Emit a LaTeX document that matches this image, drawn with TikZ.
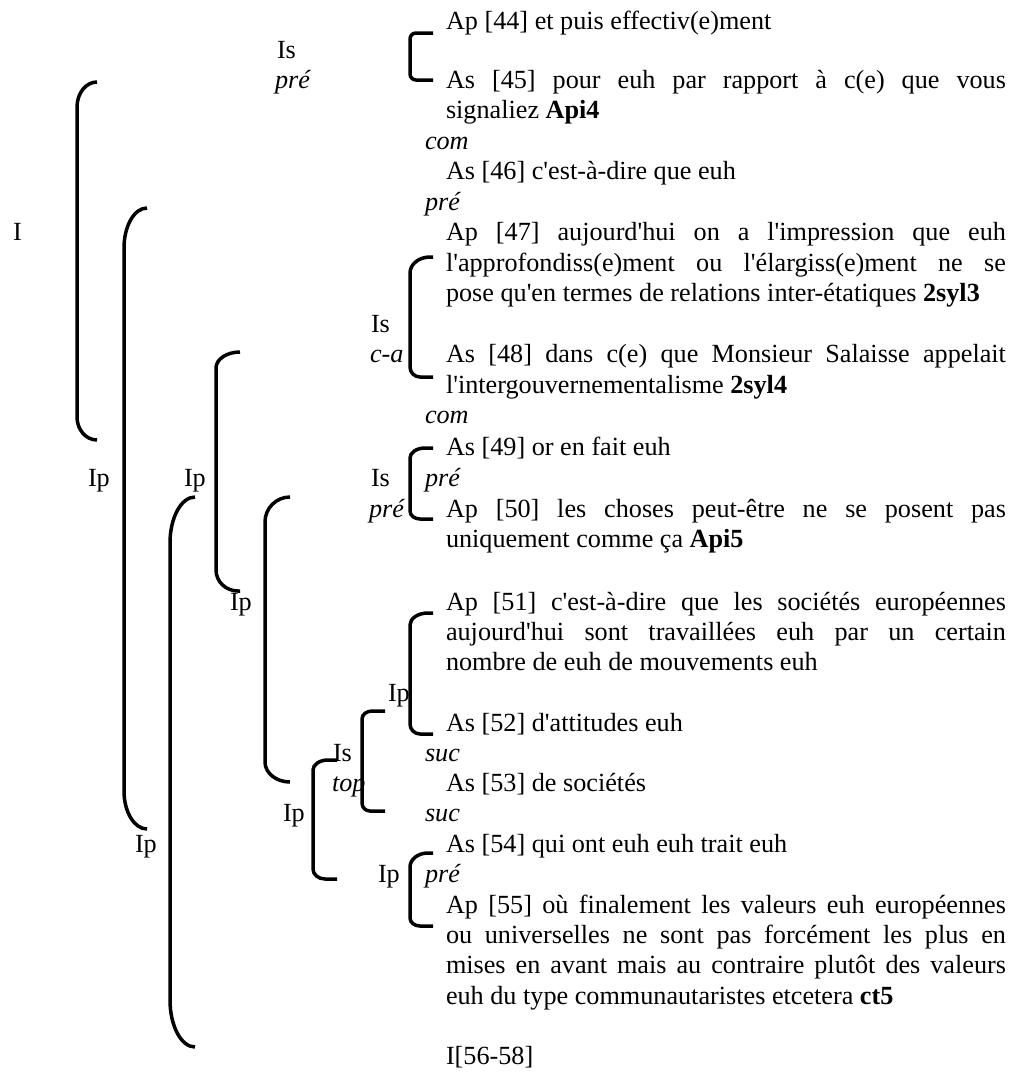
\documentclass[tikz,border=0pt]{standalone}
\usepackage{fontspec}
\setmainfont{Liberation Serif}
\newcommand\aq{\textquotesingle}
\newcommand\jline[1]{\makebox[560pt][s]{#1}}
\newcommand\mybracket[8]{%
  \draw[brk] (#2,#3) -- ({#1+#5},#3)
    .. controls ({#1+0.448*#5},#3) and (#1,{#3+0.448*#6}) .. (#1,{#3+#6})
    -- (#1,{#4-#8})
    .. controls (#1,{#4-0.448*#8}) and ({#1+0.448*#7},#4) .. ({#1+#7},#4)
    -- (#2,#4);}
\tikzset{
  txt/.style={anchor=base west, inner sep=0pt, outer sep=0pt,
    font=\fontsize{26.2}{30}\selectfont},
  lab/.style={txt},
  brk/.style={line width=3.5pt, line cap=butt, line join=round},
}
\begin{document}
\begin{tikzpicture}[x=1pt,y=-1pt]
\useasboundingbox[fill=white] (0,0) rectangle (1011,1072);

% ---------- brackets ----------
\mybracket{410}{433}{33}{80}{6}{6}{6}{6}
\mybracket{77}{97}{82}{440}{20}{25}{20}{23}
\mybracket{124}{147}{208}{829}{23}{40}{23}{38}
\mybracket{216}{240}{352}{591}{24}{16}{22}{21}
\mybracket{170}{195}{497}{1047}{25}{46}{25}{47}
\mybracket{265}{290}{497}{782}{25}{25}{25}{20}
\mybracket{313}{337}{760}{879}{15}{10}{12}{10}
\mybracket{362}{385}{711}{811}{10}{8}{8}{8}
\mybracket{410}{433}{613}{734}{18}{12}{10}{10}
\mybracket{410}{433}{448}{519}{15}{10}{10}{8}
\mybracket{410}{433}{257}{377}{20}{16}{10}{10}
\mybracket{410}{433}{853}{926}{18}{14}{10}{8}

% ---------- left labels ----------
\node[lab] (lIs1)  at (277,58.5)  {Is};
\node[lab] (lPre1) at (275,88.3)  {\textit{pré}};
\node[lab] (lI)    at (13,240.5)  {I};
\node[lab] (lIs2)  at (371,332)   {Is};
\node[lab] (lCa)   at (370,362.5) {\textit{c-a}};
\node[lab] (lIp1)  at (88,486.5)  {Ip};
\node[lab] (lIp2)  at (184,486.5) {Ip};
\node[lab] (lIs3)  at (371,486.5) {Is};
\node[lab] (lPre2) at (369,517)   {\textit{pré}};
\node[lab] (lIp3)  at (230,610)   {Ip};
\node[lab] (lIp4)  at (388,701)   {Ip};
\node[lab] (lIs4)  at (333,761)   {Is};
\node[lab] (lTop)  at (332,791)   {\textit{top}};
\node[lab] (lIp5)  at (283,821.5) {Ip};
\node[lab] (lIp6)  at (135,852)   {Ip};
\node[lab] (lIp7)  at (378,882.5) {Ip};

% ---------- relation labels ----------
\node[lab] (rCom1) at (425,149)   {\textit{com}};
\node[lab] (rPre1) at (425,210)   {\textit{pré}};
\node[lab] (rCom2) at (425,423.5) {\textit{com}};
\node[lab] (rPre2) at (425,486.5) {\textit{pré}};
\node[lab] (rSuc1) at (425,761)   {\textit{suc}};
\node[lab] (rSuc2) at (425,821.5) {\textit{suc}};
\node[lab] (rPre3) at (425,882.5) {\textit{pré}};

% ---------- text lines ----------
\node[txt] (t01) at (446,29.3)  {Ap [44] et puis effectiv(e)ment};
\node[txt] (t02) at (446,88.3)  {\jline{As [45] pour euh par rapport à c(e) que vous}};
\node[txt] (t03) at (446,118.6) {signaliez \textbf{Api4}};
\node[txt] (t04) at (446,179.5) {As [46] c\aq est-à-dire que euh};
\node[txt] (t05) at (446,240.5) {\jline{Ap [47] aujourd\aq hui on a l\aq impression que euh}};
\node[txt] (t06) at (446,271)   {\jline{l\aq approfondiss(e)ment ou l\aq élargiss(e)ment ne se}};
\node[txt] (t07) at (446,301.5) {pose qu\aq en termes de relations inter-étatiques \textbf{2syl3}};
\node[txt] (t08) at (446,362.5) {\jline{As [48] dans c(e) que Monsieur Salaisse appelait}};
\node[txt] (t09) at (446,393)   {l\aq intergouvernementalisme \textbf{2syl4}};
\node[txt] (t10) at (446,455)   {As [49] or en fait euh};
\node[txt] (t11) at (446,517)   {\jline{Ap [50] les choses peut-être ne se posent pas}};
\node[txt] (t12) at (446,547.5) {uniquement comme ça \textbf{Api5}};
\node[txt] (t13) at (446,610)   {\jline{Ap [51] c\aq est-à-dire que les sociétés européennes}};
\node[txt] (t14) at (446,640)   {\jline{aujourd\aq hui sont travaillées euh par un certain}};
\node[txt] (t15) at (446,670.5) {nombre de euh de mouvements euh};
\node[txt] (t16) at (446,731)   {As [52] d\aq attitudes euh};
\node[txt] (t17) at (446,791)   {As [53] de sociétés};
\node[txt] (t18) at (446,852)   {As [54] qui ont euh euh trait euh};
\node[txt] (t19) at (446,913)   {\jline{Ap [55] où finalement les valeurs euh européennes}};
\node[txt] (t20) at (446,943)   {\jline{ou universelles ne sont pas forcément les plus en}};
\node[txt] (t21) at (446,973.5) {\jline{mises en avant mais au contraire plutôt des valeurs}};
\node[txt] (t22) at (446,1004)  {euh du type communautaristes etcetera \textbf{ct5}};
\node[txt] (t23) at (446,1064.5){I[56-58]};
\end{tikzpicture}
\end{document}
